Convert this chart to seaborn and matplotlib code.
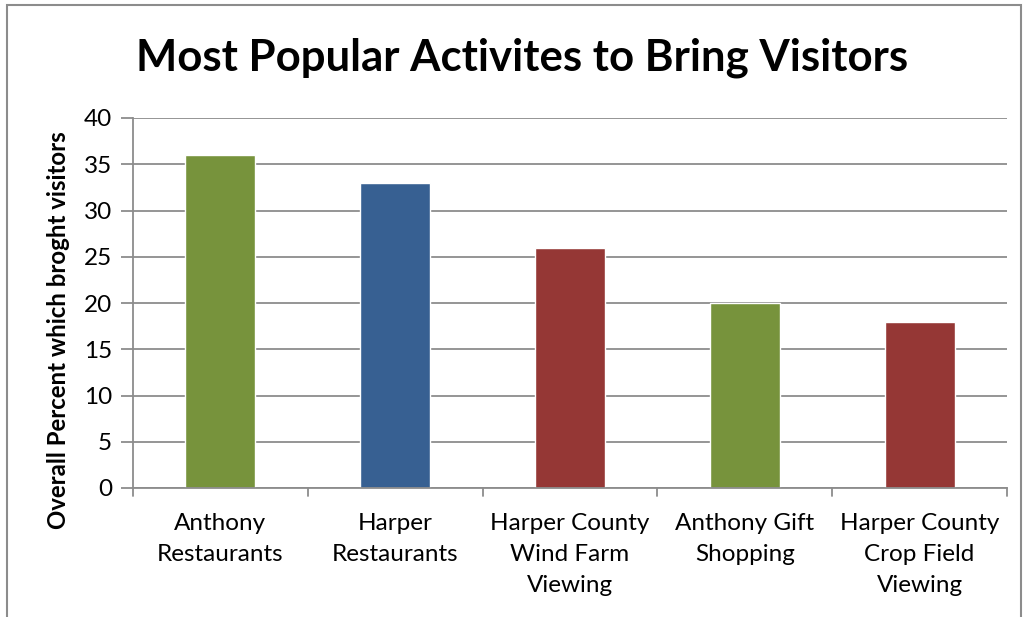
import matplotlib
matplotlib.use("Agg")
import matplotlib.pyplot as plt
import seaborn as sns
import pandas as pd
from matplotlib.patches import Rectangle

# Survey results
activities = [
    "Anthony\nRestaurants",
    "Harper\nRestaurants",
    "Harper County\nWind Farm\nViewing",
    "Anthony Gift\nShopping",
    "Harper County\nCrop Field\nViewing",
]
percents = [36, 33, 26, 20, 18]
bar_colors = ["#77933C", "#376092", "#953735", "#77933C", "#953735"]
y_ticks = [0, 5, 10, 15, 20, 25, 30, 35, 40]

sns.set_theme(style="white")
plt.rcParams["font.family"] = ["Lato", "DejaVu Sans"]
plt.rcParams["text.color"] = "black"
plt.rcParams["xtick.color"] = "black"
plt.rcParams["ytick.color"] = "black"

df = pd.DataFrame({"activity": activities, "percent": percents})

W, H = 1029, 617
fig = plt.figure(figsize=(W / 100, H / 100), dpi=100)
ax = fig.add_axes([133 / W, 1 - 488 / H, (1007 - 133) / W, (488 - 118) / H])

sns.barplot(data=df, x="activity", y="percent", hue="activity",
            palette=bar_colors, width=0.4, saturation=1, legend=False, ax=ax)

grid_gray = "#8C8C8C"
ax.set_ylim(0, 40)
ax.set_xlim(-0.5, len(activities) - 0.5)
ax.set_yticks(y_ticks)
ax.set_yticklabels([str(v) for v in y_ticks], fontsize=17.5)
ax.yaxis.grid(True, color=grid_gray, linewidth=1.3)
ax.set_axisbelow(True)

# category labels, with boundary ticks between categories
ax.set_xticks(range(len(activities)))
ax.set_xticklabels(activities, fontsize=17.5, linespacing=1.6)
ax.tick_params(axis="x", length=0, pad=18, colors="black")
ax.tick_params(axis="y", length=9, width=1.3, color=grid_gray, labelcolor="black",
               pad=6, left=True)
for b in [i - 0.5 for i in range(len(activities) + 1)]:
    ax.plot([b, b], [0, -0.9], color=grid_gray, lw=1.3, clip_on=False)

for side in ["top", "right"]:
    ax.spines[side].set_visible(False)
for side in ["left", "bottom"]:
    ax.spines[side].set_color(grid_gray)
    ax.spines[side].set_linewidth(1.3)

ax.set_xlabel("")
ax.set_ylabel("")
fig.text(59 / W, 1 - 330 / H, "Overall Percent which broght visitors",
         rotation=90, ha="center", va="center", fontsize=17.3, fontweight="bold")

fig.text(522 / W, 1 - 58 / H, "Most Popular Activites to Bring Visitors",
         ha="center", va="center", fontsize=31.5, fontweight="bold")

# chart frame
fig.patches.append(Rectangle((7 / W, -0.1), (1021 - 7) / W, 1.1 - 5 / H,
                             transform=fig.transFigure, fill=False,
                             edgecolor=grid_gray, linewidth=1.5))

fig.savefig("out.png", dpi=100)
